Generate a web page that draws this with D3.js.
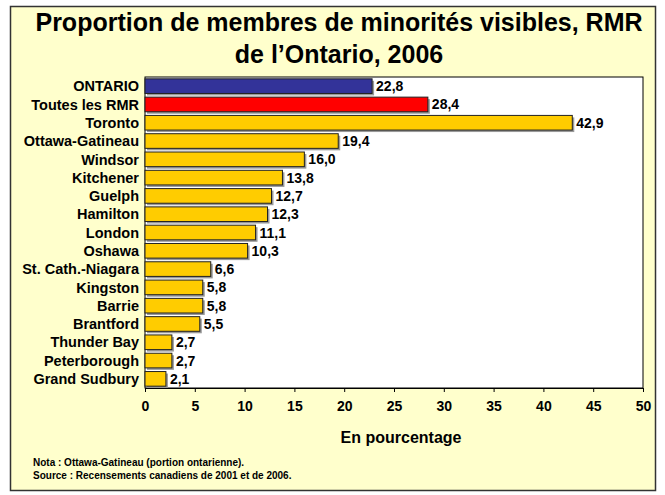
<!DOCTYPE html>
<html>
<head>
<meta charset="utf-8">
<script src="https://cdn.jsdelivr.net/npm/d3@7"></script>
<style>
  body { margin: 0; background: #fff; }
  svg text { font-family: "Liberation Sans", Arial, sans-serif; font-weight: bold; fill: #000; }
</style>
</head>
<body>
<svg width="665" height="495"></svg>
<script>
const categories = [
  "ONTARIO", "Toutes les RMR", "Toronto", "Ottawa-Gatineau", "Windsor",
  "Kitchener", "Guelph", "Hamilton", "London", "Oshawa",
  "St. Cath.-Niagara", "Kingston", "Barrie", "Brantford", "Thunder Bay",
  "Peterborough", "Grand Sudbury"
];
const values = [22.8, 28.4, 42.9, 19.4, 16.0, 13.8, 12.7, 12.3, 11.1, 10.3,
  6.6, 5.8, 5.8, 5.5, 2.7, 2.7, 2.1];
const xTicks = [0, 5, 10, 15, 20, 25, 30, 35, 40, 45, 50];
const titleLines = ["Proportion de membres de minorités visibles, RMR", "de l’Ontario, 2006"];
const notes = ["Nota : Ottawa-Gatineau (portion ontarienne).",
  "Source : Recensements canadiens de 2001 et de 2006."];

const svg = d3.select("svg");
const margin = {top: 77, left: 145, right: 22, bottom: 107};
const width = 665 - margin.left - margin.right,
      height = 495 - margin.top - margin.bottom;

// fond et cadre
svg.append("rect")
  .attr("x", 10.5).attr("y", 6.5).attr("width", 645).attr("height", 484)
  .attr("fill", "#ffffcc").attr("stroke", "#333").attr("stroke-width", 1.5);

svg.selectAll("text.title")
  .data(titleLines)
  .enter().append("text")
  .attr("class", "title")
  .attr("x", 339).attr("y", (d, i) => 31 + i * 32)
  .attr("text-anchor", "middle")
  .style("font-size", "25px")
  .text(d => d);

const g = svg.append("g")
  .attr("transform", `translate(${margin.left},${margin.top})`);

const x = d3.scaleLinear().domain([0, 50]).range([0, width]);
const y = d3.scaleBand().domain(categories).range([0, height]).paddingInner(0.2).paddingOuter(0.1);

g.append("rect")
  .attr("width", width).attr("height", height)
  .attr("fill", "#fff").attr("stroke", "#000").attr("stroke-width", 1);

const colorOf = (d, i) => i === 0 ? "#333399" : i === 1 ? "#ff0000" : "#ffcc00";

// ombre
g.selectAll("rect.shadow")
  .data(values)
  .enter().append("rect")
  .attr("class", "shadow")
  .attr("x", 2)
  .attr("y", (d, i) => y(categories[i]) + 2)
  .attr("width", d => x(d))
  .attr("height", y.bandwidth())
  .attr("fill", "#999");

g.selectAll("rect.bar")
  .data(values)
  .enter().append("rect")
  .attr("class", "bar")
  .attr("x", 0)
  .attr("y", (d, i) => y(categories[i]))
  .attr("width", d => x(d))
  .attr("height", y.bandwidth())
  .attr("fill", colorOf)
  .attr("stroke", "#222").attr("stroke-width", 1);

g.selectAll("text.val")
  .data(values)
  .enter().append("text")
  .attr("class", "val")
  .attr("x", d => x(d) + 4)
  .attr("y", (d, i) => y(categories[i]) + y.bandwidth() / 2)
  .attr("dy", "0.36em")
  .style("font-size", "14px")
  .text(d => d.toFixed(1).replace(".", ","));

g.selectAll("text.cat")
  .data(categories)
  .enter().append("text")
  .attr("class", "cat")
  .attr("x", -6)
  .attr("y", d => y(d) + y.bandwidth() / 2)
  .attr("dy", "0.36em")
  .attr("text-anchor", "end")
  .style("font-size", "14.5px")
  .text(d => d);

const xAxis = g.append("g")
  .attr("transform", `translate(0,${height})`)
  .call(d3.axisBottom(x).tickValues(xTicks).tickSize(4).tickPadding(9).tickFormat(d3.format("d")));
xAxis.select(".domain").attr("stroke", "#000");
xAxis.selectAll("text").style("font-size", "14px").attr("font-family", null);

svg.append("text")
  .attr("x", 401)
  .attr("y", 443)
  .attr("text-anchor", "middle")
  .style("font-size", "16px")
  .text("En pourcentage");

svg.selectAll("text.note")
  .data(notes)
  .enter().append("text")
  .attr("class", "note")
  .attr("x", 33)
  .attr("y", (d, i) => 466 + i * 13)
  .style("font-size", "10px")
  .text(d => d);
</script>
</body>
</html>
